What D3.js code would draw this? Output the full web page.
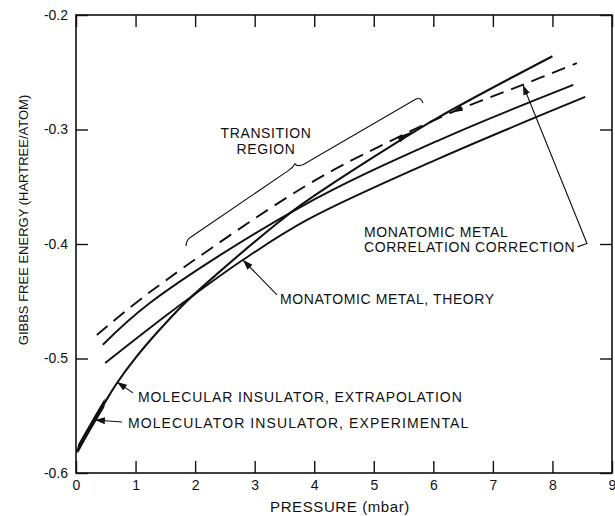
<!DOCTYPE html>
<html>
<head>
<meta charset="utf-8">
<script src="https://cdn.jsdelivr.net/npm/d3@7/dist/d3.min.js"></script>
<style>
  html, body { margin: 0; padding: 0; background: #fff; }
  svg { display: block; }
  text { font-family: 'Liberation Sans', Arial, Helvetica, sans-serif; fill: #111; }
</style>
</head>
<body>
<svg id="chart" width="615" height="516"></svg>
<script>
// ---- data (pressure in mbar, Gibbs free energy in hartree/atom) ----
const xTicks = [0, 1, 2, 3, 4, 5, 6, 7, 8, 9];
const xTickLabels = ["0", "1", "2", "3", "4", "5", "6", "7", "8", "9"];
const yTicks = [-0.6, -0.5, -0.4, -0.3, -0.2];
const yTickLabels = ["-0.6", "-0.5", "-0.4", "-0.3", "-0.2"];

// Molecular insulator (experimental + extrapolation)
const molPressure = [0, 0.25, 0.5, 0.7, 1.0, 1.35, 1.8, 2.35, 3.4, 3.75, 5.0, 6.1, 8.0];
const molGibbs    = [-0.582, -0.559, -0.537, -0.5205, -0.4995, -0.478, -0.453, -0.427, -0.381, -0.367, -0.324, -0.289, -0.236];
const molExperimentalRange = [0.03, 0.48];

// Monatomic metal with correlation correction (dashed)
const corrPressure = [0.35, 1.24, 3.88, 5.32, 6.33, 7.4, 8.41];
const corrGibbs    = [-0.4795, -0.442, -0.3485, -0.309, -0.2847, -0.263, -0.242];

// Middle solid curve
const midPressure = [0.45, 1.24, 3.76, 6.11, 8.35];
const midGibbs    = [-0.488, -0.4515, -0.368, -0.309, -0.261];

// Monatomic metal, theory
const theoryPressure = [0.49, 1.24, 1.86, 2.8, 3.88, 6.11, 8.55];
const theoryGibbs    = [-0.504, -0.4734, -0.449, -0.414, -0.379, -0.325, -0.2716];

// Annotation labels (anchor in data units)
const labelTexts = ["TRANSITION", "REGION", "MONATOMIC METAL, THEORY", "MONATOMIC METAL",
                    "CORRELATION CORRECTION", "MOLECULAR INSULATOR, EXTRAPOLATION",
                    "MOLECULATOR INSULATOR, EXPERIMENTAL"];
const labelX = [3.19, 3.19, 3.425, 4.835, 4.835, 1.041, 0.873];
const labelY = [-0.3074, -0.3214, -0.4524, -0.3939, -0.407, -0.538, -0.5607];
const labelAnchor = ["middle", "middle", "start", "start", "start", "start", "start"];
const labelSpacing = [0.6, 0.6, 0.6, 0.6, 0.6, 0.9, 1.1];

// Leader arrows: polyline points in data units, last point is the tip
const leaders = [
  [[3.375, -0.4445], [2.804, -0.414]],
  [[8.42, -0.4025], [8.58, -0.3995], [7.505, -0.2611]],
  [[0.957, -0.530], [0.688, -0.5205]],
  [[0.772, -0.5555], [0.319, -0.5537]]
];

// Transition region brace: left end, cusp, right end
const braceX = [1.864, 3.677, 5.776];
const braceY = [-0.3965, -0.3300, -0.2725];

// small arrowheads on the curves in the crossing area (tail -> tip)
const curveArrows = [
  [[5.42, -0.3088], [5.66, -0.3015]],
  [[6.48, -0.2812], [6.31, -0.2850]]
];

// ---- drawing ----
const svg = d3.select("#chart");
const x = d3.scaleLinear().domain([0, 9]).range([76, 612]);
const y = d3.scaleLinear().domain([-0.6, -0.2]).range([473, 15]);

const defs = svg.append("defs");
defs.append("marker")
  .attr("id", "arrow")
  .attr("viewBox", "0 0 10 7")
  .attr("refX", 10).attr("refY", 3.5)
  .attr("markerWidth", 10).attr("markerHeight", 7)
  .attr("markerUnits", "userSpaceOnUse")
  .attr("orient", "auto")
  .append("path").attr("d", "M0,0 L10,3.5 L0,7 Z").attr("fill", "#111");

defs.append("clipPath").attr("id", "expClip")
  .append("rect")
  .attr("x", x(molExperimentalRange[0])).attr("y", 0)
  .attr("width", x(molExperimentalRange[1]) - x(molExperimentalRange[0]))
  .attr("height", 516);

defs.append("clipPath").attr("id", "plotClip")
  .append("rect").attr("x", 76).attr("y", 15).attr("width", 536).attr("height", 458);

// axes with inward ticks
const fs = "14px";
const gB = svg.append("g").attr("transform", `translate(0,${y(-0.6)})`)
  .call(d3.axisBottom(x).tickValues(xTicks).tickFormat((d, i) => xTickLabels[i])
        .tickSizeInner(-12).tickSizeOuter(0).tickPadding(7));
const gT = svg.append("g").attr("transform", `translate(0,${y(-0.2)})`)
  .call(d3.axisTop(x).tickValues(xTicks).tickFormat("").tickSizeInner(-12).tickSizeOuter(0));
const gL = svg.append("g").attr("transform", `translate(${x(0)},0)`)
  .call(d3.axisLeft(y).tickValues(yTicks).tickFormat((d, i) => yTickLabels[i])
        .tickSizeInner(-12).tickSizeOuter(0).tickPadding(8));
const gR = svg.append("g").attr("transform", `translate(${x(9)},0)`)
  .call(d3.axisRight(y).tickValues(yTicks).tickFormat("").tickSizeInner(-12).tickSizeOuter(0));
[gB, gT, gL, gR].forEach(g => {
  g.select(".domain").remove();
  g.selectAll(".tick line").attr("stroke", "#111").attr("stroke-width", 1.4);
  g.selectAll(".tick text").attr("font-size", fs)
    .attr("font-family", "'Liberation Sans', Arial, sans-serif").attr("fill", "#111");
});

// frame
svg.append("rect")
  .attr("x", x(0)).attr("y", y(-0.2))
  .attr("width", x(9) - x(0)).attr("height", y(-0.6) - y(-0.2))
  .attr("fill", "none").attr("stroke", "#111").attr("stroke-width", 1.6);

// axis titles
svg.append("text").attr("x", (x(0) + x(9)) / 2 - 4).attr("y", 512)
  .attr("text-anchor", "middle").attr("font-size", "15px")
  .attr("letter-spacing", "0.6px").text("PRESSURE (mbar)");
svg.append("text").attr("transform", "translate(28,220) rotate(-90)")
  .attr("text-anchor", "middle").attr("font-size", "13px")
  .text("GIBBS FREE ENERGY (HARTREE/ATOM)");

// curves
const line = d3.line().x(d => x(d[0])).y(d => y(d[1])).curve(d3.curveCatmullRom.alpha(0.5));
const zip = (a, b) => a.map((v, i) => [v, b[i]]);

const plot = svg.append("g").attr("clip-path", "url(#plotClip)");
plot.append("path").datum(zip(theoryPressure, theoryGibbs)).attr("d", line)
  .attr("fill", "none").attr("stroke", "#111").attr("stroke-width", 1.9);
plot.append("path").datum(zip(midPressure, midGibbs)).attr("d", line)
  .attr("fill", "none").attr("stroke", "#111").attr("stroke-width", 1.9);
plot.append("path").datum(zip(corrPressure, corrGibbs)).attr("d", line)
  .attr("fill", "none").attr("stroke", "#111").attr("stroke-width", 1.9)
  .attr("stroke-dasharray", "14,8");
plot.append("path").datum(zip(molPressure, molGibbs)).attr("d", line)
  .attr("fill", "none").attr("stroke", "#111").attr("stroke-width", 2.1);
plot.append("path").datum(zip(molPressure, molGibbs)).attr("d", line)
  .attr("clip-path", "url(#expClip)")
  .attr("fill", "none").attr("stroke", "#111").attr("stroke-width", 4.2);

// small arrowheads on curves
curveArrows.forEach(([t, h]) => {
  const x0 = x(t[0]), y0 = y(t[1]), x1 = x(h[0]), y1 = y(h[1]);
  const ang = Math.atan2(y1 - y0, x1 - x0);
  const w = 3;
  const px = -Math.sin(ang) * w, py = Math.cos(ang) * w;
  svg.append("path")
    .attr("d", `M${x1},${y1} L${x0 + px},${y0 + py} L${x0 - px},${y0 - py} Z`)
    .attr("fill", "#111");
});

// transition brace
{
  const L = [x(braceX[0]), y(braceY[0])];
  const C = [x(braceX[1]), y(braceY[1])];
  const R = [x(braceX[2]), y(braceY[2])];
  const p = d3.path();
  p.moveTo(L[0] - 1, L[1] + 6);
  p.quadraticCurveTo(L[0] - 1, L[1], L[0] + 4, L[1] - 3);
  p.lineTo(C[0] - 7, C[1] + 7);
  p.quadraticCurveTo(C[0] - 2, C[1] + 4, C[0], C[1]);
  p.quadraticCurveTo(C[0] + 2, C[1] + 3, C[0] + 8, C[1] + 1);
  p.lineTo(R[0] - 4, R[1] + 1);
  p.quadraticCurveTo(R[0] + 1, R[1] - 1, R[0] + 3, R[1] + 5);
  svg.append("path").attr("d", p.toString())
    .attr("fill", "none").attr("stroke", "#111").attr("stroke-width", 1.1);
}

// leader arrows
leaders.forEach(pts => {
  svg.append("path")
    .attr("d", d3.line().x(d => x(d[0])).y(d => y(d[1]))(pts))
    .attr("fill", "none").attr("stroke", "#111").attr("stroke-width", 1.1)
    .attr("marker-end", "url(#arrow)");
});

// labels
labelTexts.forEach((t, i) => {
  svg.append("text")
    .attr("x", x(labelX[i])).attr("y", y(labelY[i]))
    .attr("text-anchor", labelAnchor[i])
    .attr("font-size", "14px").attr("letter-spacing", labelSpacing[i] + "px")
    .text(t);
});
</script>
</body>
</html>
